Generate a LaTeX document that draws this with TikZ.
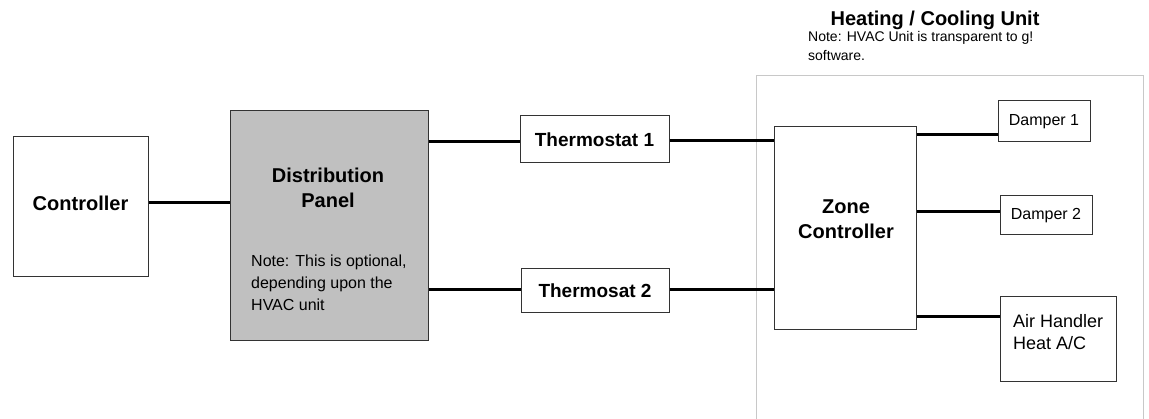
\documentclass[tikz,border=0pt]{standalone}
\usepackage{fontspec}
\setmainfont{Liberation Sans}
\definecolor{panelgray}{HTML}{C0C0C0}
\definecolor{framegray}{HTML}{C8C8C8}
\begin{document}
\begin{tikzpicture}[x=1pt, y=-1pt,
        blk/.style={rectangle, draw=black!80, line width=1pt, fill=white,
          inner sep=0pt, align=center,
        font=\fontsize{20}{25}\selectfont\bfseries},
        tbox/.style={blk, font=\fontsize{19}{23}\selectfont\bfseries},
        dbox/.style={blk, font=\fontsize{16}{20}\selectfont},
        wire/.style={draw=black, line width=3pt},
        note/.style={inner sep=0pt, align=left,
        font=\fontsize{16}{22}\selectfont}
      ]
      \useasboundingbox (0,0) rectangle (1149,419);
      \draw[framegray, line width=1pt] (756,425) |- (1143,76) -- (1143,425);
      \node[font=\fontsize{20}{24}\selectfont\bfseries] (unittitle) at (935,20)
      {Heating / Cooling Unit};
      \node[note, anchor=north west, font=\fontsize{14}{19}\selectfont]
      (unitnote) at (808,31)
      {Note: HVAC Unit is transparent to g!\\software.};
      \node[blk, minimum width=135pt, minimum height=140pt] (ctrl) at (80.5,207)
      {\raisebox{7pt}{Controller}};
      \node[blk, fill=panelgray, minimum width=198pt, minimum height=230pt]
      (panel) at (329,226) {};
      \node[blk, fill=none, draw=none] (paneltitle) at (328,188)
      {Distribution\\Panel};
      \node[note, anchor=north west] (panelnote) at (251,255)
      {Note: This is optional,\\depending upon the\\HVAC unit};
      \node[tbox, minimum width=149pt, minimum height=47pt] (t1) at (594.5,139.5)
      {Thermostat 1};
      \node[tbox, minimum width=148pt, minimum height=44pt] (t2) at (595,291)
      {Thermosat 2};
      \node[blk, minimum width=142pt, minimum height=203pt] (zone) at (845,228.5)
      {};
      \node[blk, fill=none, draw=none] (zonetitle) at (846,219)
      {Zone\\Controller};
      \node[dbox, minimum width=92pt, minimum height=41pt] (d1) at (1044,121.5)
      {Damper 1};
      \node[dbox, minimum width=92pt, minimum height=39pt] (d2) at (1046,215.5)
      {Damper 2};
      \node[dbox, minimum width=116pt, minimum height=85pt] (ah) at (1058,339.5)
      {};
      \node[note, anchor=north west, font=\fontsize{18}{22}\selectfont]
      (ahtext) at (1013,314) {Air Handler\\Heat A/C};
      \draw[wire] (ctrl.east |- 0,203) -- (panel.west |- 0,203);
      \draw[wire] (panel.east |- 0,142) -- (t1.west |- 0,142);
      \draw[wire] (t1.east |- 0,141) -- (zone.west |- 0,141);
      \draw[wire] (panel.east |- 0,290) -- (t2.west |- 0,290);
      \draw[wire] (t2.east |- 0,290) -- (zone.west |- 0,290);
      \draw[wire] (zone.east |- 0,135) -- (d1.west |- 0,135);
      \draw[wire] (zone.east |- 0,212) -- (d2.west |- 0,212);
      \draw[wire] (zone.east |- 0,317) -- (ah.west |- 0,317);
    \end{tikzpicture}
\end{document}
